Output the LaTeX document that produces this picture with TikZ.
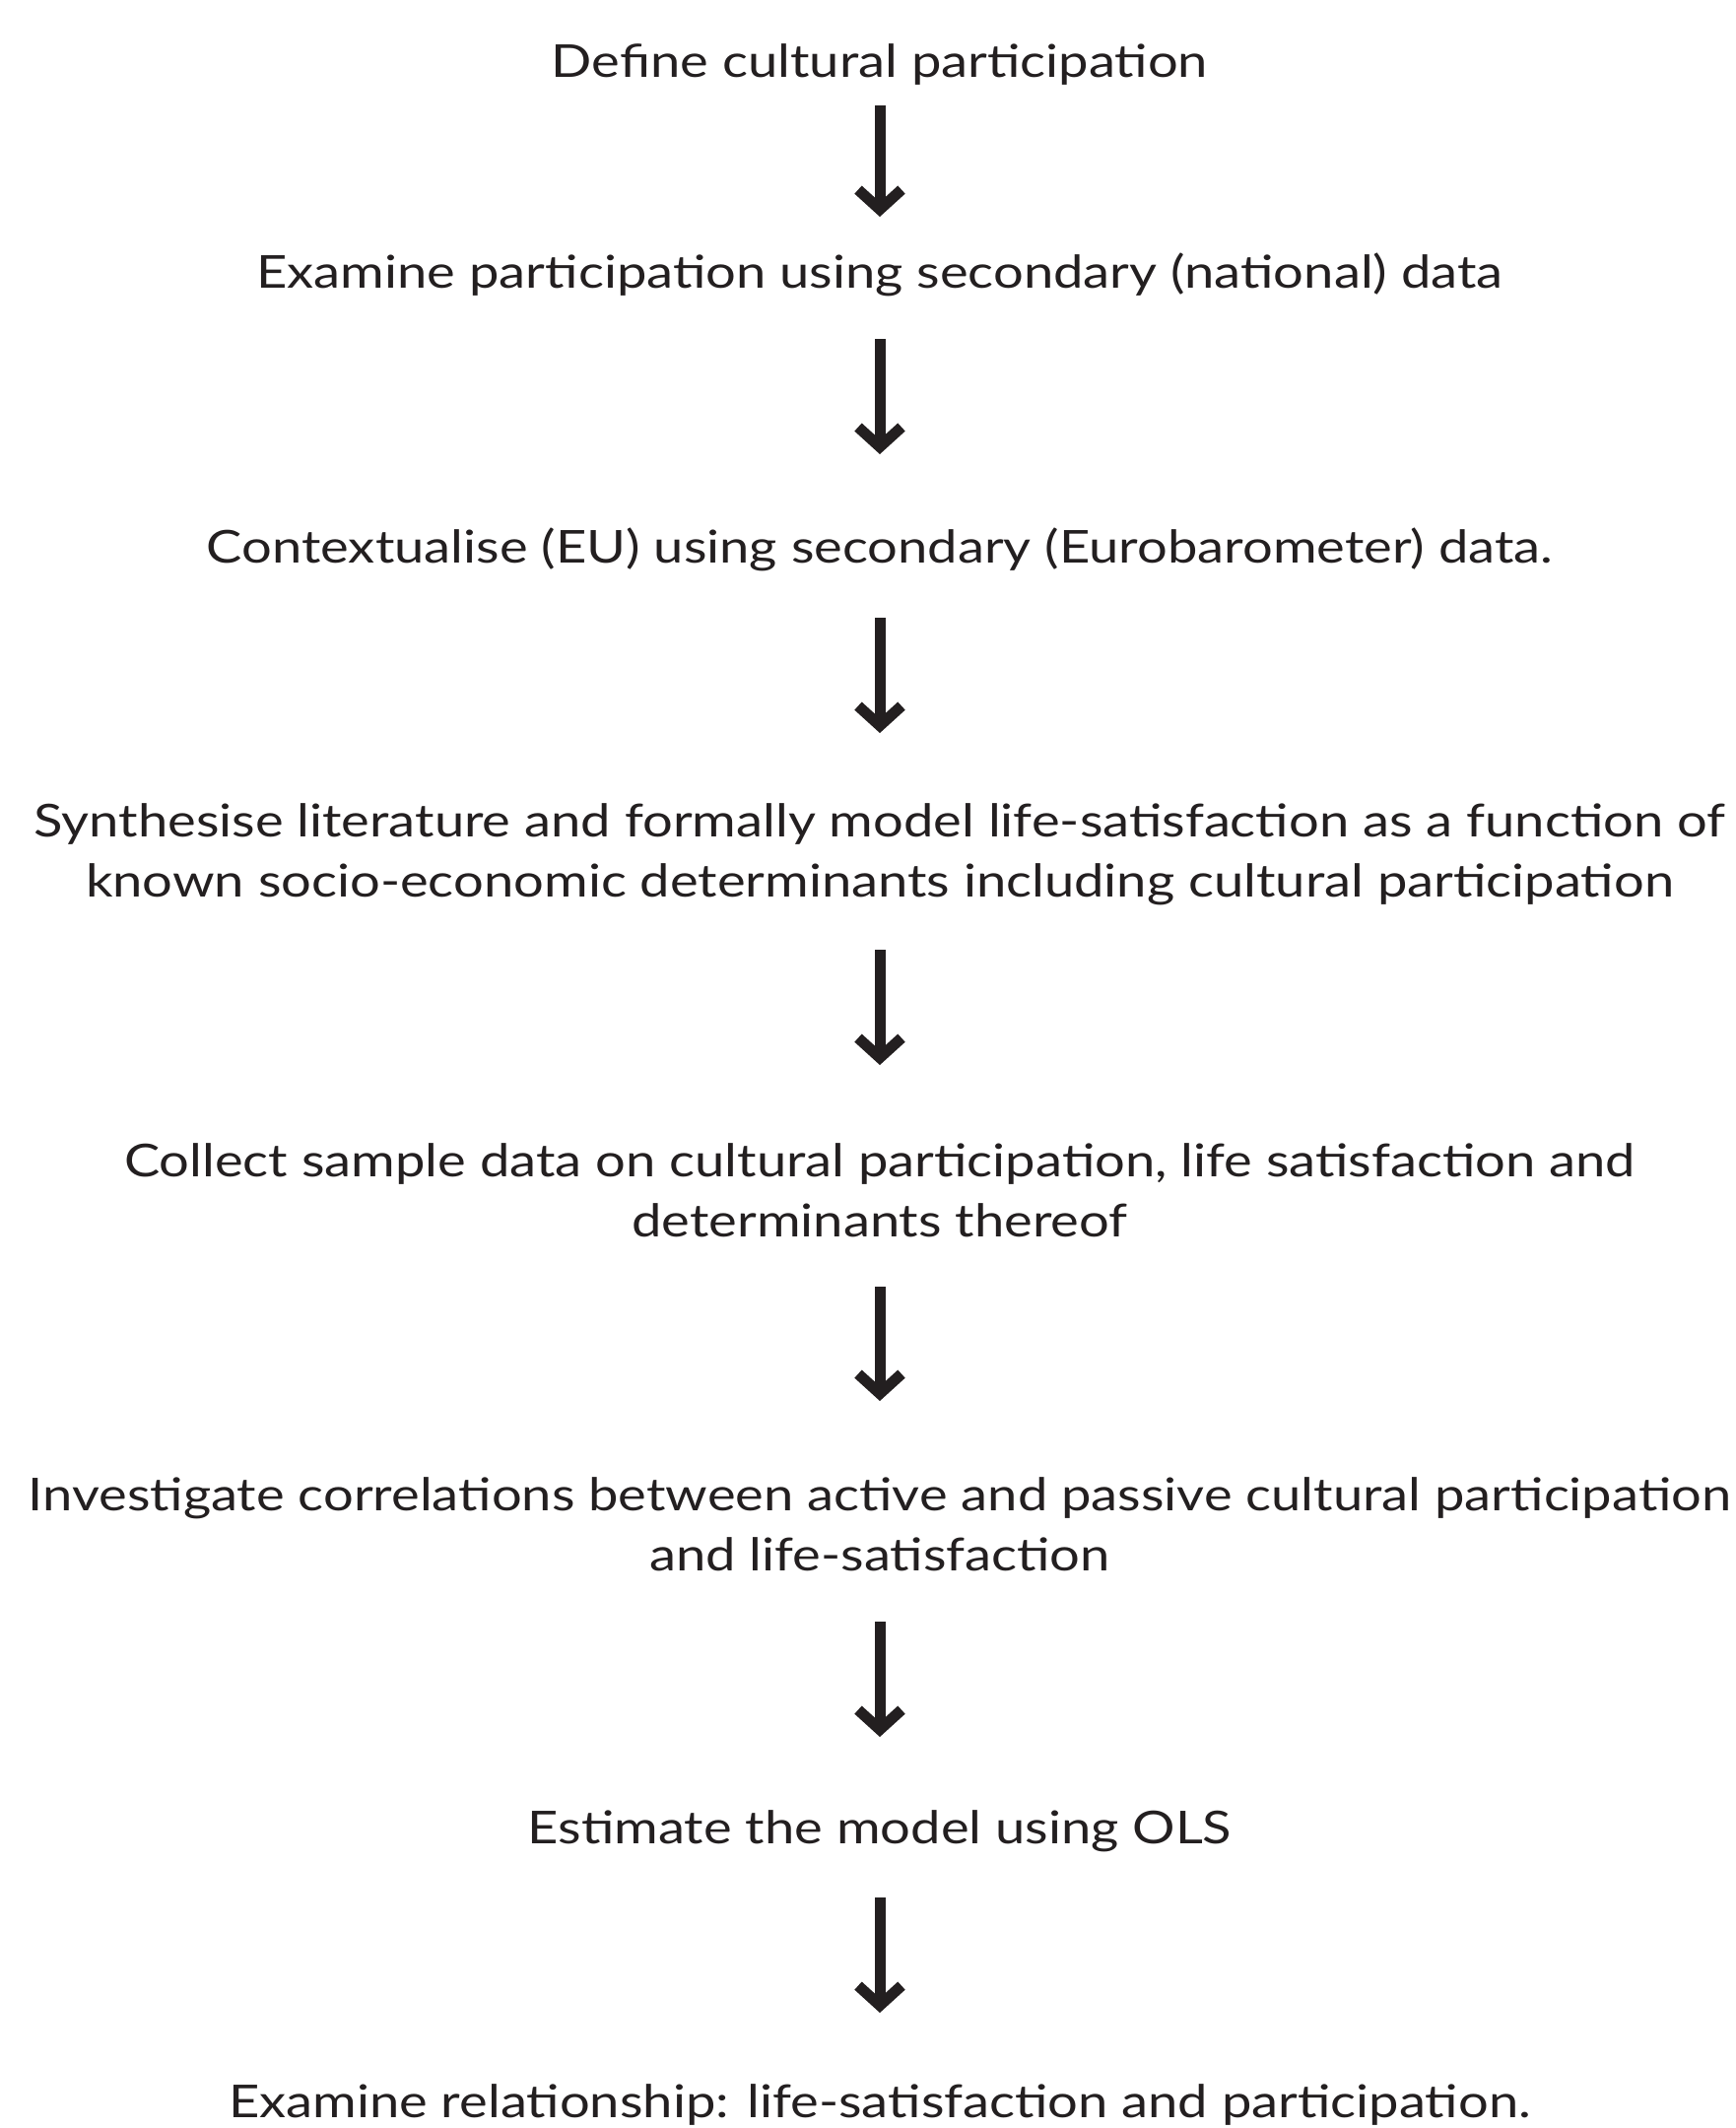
\documentclass[tikz,border=0pt]{standalone}
\usepackage{fontspec}
\setmainfont[FakeStretch=1.18]{Lato}
\usetikzlibrary{arrows.meta}
\definecolor{inkblack}{HTML}{231F20}
\tikzset{
  stage/.style={text=inkblack, font=\fontsize{23}{30.5}\selectfont, align=center, inner sep=0pt},
  flow/.style={draw=inkblack, line width=5.5pt, -{Straight Barb[length=10pt,width=22pt]}}
}
\begin{document}
\begin{tikzpicture}
  \useasboundingbox (0,0) rectangle (881pt,-1080pt);

  \node[stage] (define) at (446.5pt,-32.5pt) {Define cultural participation};
  \node[stage] (national) at (446.5pt,-139.5pt) {Examine participation using secondary (national) data};
  \node[stage] (euro) at (446.5pt,-279pt) {Contextualise (EU) using secondary (Eurobarometer) data.};
  \node[stage] (synth) at (446.5pt,-433.5pt) {Synthesise literature and formally model life-satisfaction as a function of\\known socio-economic determinants including cultural participation};
  \node[stage] (collect) at (446.5pt,-604pt) {Collect sample data on cultural participation, life satisfaction and\\determinants thereof};
  \node[stage] (correl) at (446.5pt,-773.5pt) {Investigate correlations between active and passive cultural participation\\and life-satisfaction};
  \node[stage] (ols) at (446.5pt,-929.5pt) {Estimate the model using OLS};
  \node[stage] (relation) at (446.5pt,-1068pt) {Examine relationship: life-satisfaction and participation.};

  % arrows between stages
  \draw[flow, shorten <=21pt, shorten >=29.5pt] (define.center) -- (national.center);
  \draw[flow, shorten <=32.5pt, shorten >=48.5pt] (national.center) -- (euro.center);
  \draw[flow, shorten <=34.5pt, shorten >=61.5pt] (euro.center) -- (synth.center);
  \draw[flow, shorten <=48.5pt, shorten >=63.5pt] (synth.center) -- (collect.center);
  \draw[flow, shorten <=49pt, shorten >=62.5pt] (collect.center) -- (correl.center);
  \draw[flow, shorten <=49.5pt, shorten >=48pt] (correl.center) -- (ols.center);
  \draw[flow, shorten <=33.5pt, shorten >=46.5pt] (ols.center) -- (relation.center);
\end{tikzpicture}
\end{document}
